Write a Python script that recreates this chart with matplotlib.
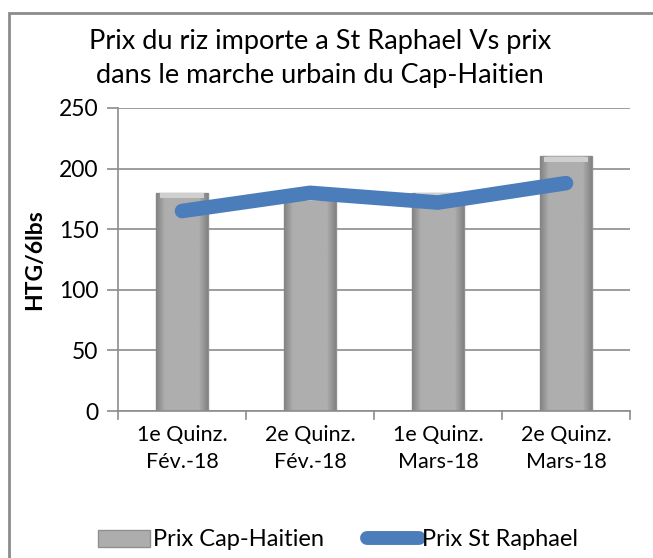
import numpy as np
import matplotlib
matplotlib.use("Agg")
import matplotlib.pyplot as plt
from matplotlib.patches import Rectangle, Patch
from matplotlib.lines import Line2D

plt.rcParams['font.family'] = ['Lato', 'DejaVu Sans']

# donnees
periodes = ["1e Quinz.\nFév.-18", "2e Quinz.\nFév.-18", "1e Quinz.\nMars-18", "2e Quinz.\nMars-18"]
prix_cap = [180, 178, 180, 210]
prix_raphael = [165, 180, 172, 188]
y_ticks = [0, 50, 100, 150, 200, 250]

W, H = 653, 558
fig = plt.figure(figsize=(W / 100, H / 100), dpi=100)
ax = fig.add_axes([118 / W, 1 - 411 / H, 512 / W, 303 / H])

# cadre exterieur (coupe a droite et en bas)
fig.patches.append(Rectangle((9 / W, -0.1), 1.2, 1 - 13 / H + 0.1, transform=fig.transFigure,
                             fill=False, edgecolor="#8c8c8c", linewidth=2, zorder=0))

x = np.arange(len(periodes))
bars = ax.bar(x, prix_cap, width=0.4, color="#adadad", edgecolor="#8f8f8f", linewidth=1, zorder=2)

# degrade horizontal pour donner du relief
grad = np.concatenate([np.linspace(0.52, 0.68, 6), np.full(20, 0.68), np.linspace(0.68, 0.52, 6)])
img = np.tile(grad, (2, 1))
for b in bars:
    im = ax.imshow(img, cmap="gray", vmin=0, vmax=1, aspect="auto", zorder=2.5,
                   extent=(b.get_x(), b.get_x() + b.get_width(), 0, b.get_height()), interpolation="bilinear")
    im.set_clip_path(b)
    # petit biseau clair en haut
    ax.bar(b.get_x() + b.get_width() / 2, 4, bottom=b.get_height() - 4.5, width=b.get_width() * 0.85,
           color="#cfcfcf", linewidth=0, zorder=2.6)

ax.plot(x, prix_raphael, color="#4a7dba", linewidth=10.5, solid_capstyle="round",
        solid_joinstyle="round", zorder=3)

ax.set_xlim(-0.5, 3.5)
ax.set_ylim(0, 250)
ax.set_yticks(y_ticks)
ax.set_xticks(x)
ax.set_xticklabels(periodes, fontsize=15.5, linespacing=1.45)
ax.tick_params(axis="y", labelsize=16.5, length=8, width=1.2, color="#8c8c8c", direction="out", pad=6)
ax.tick_params(axis="x", length=0, pad=10)
# graduations aux limites des categories
for xb in np.arange(-0.5, 4, 1):
    ax.plot([xb, xb], [0, -6.5], color="#8c8c8c", linewidth=1.2, clip_on=False, zorder=1)

ax.grid(axis="y", color="#8c8c8c", linewidth=1.2, zorder=0)
ax.set_axisbelow(True)
for s in ["top", "right"]:
    ax.spines[s].set_visible(False)
for s in ["left", "bottom"]:
    ax.spines[s].set_color("#8c8c8c")
    ax.spines[s].set_linewidth(1.2)

fig.text(35 / W, 1 - 260 / H, "HTG/6lbs", rotation=90, ha="center", va="center",
         fontsize=16.5, fontweight="bold")
fig.text(320 / W, 1 - 42 / H, "Prix du riz importe a St Raphael Vs prix", ha="center", va="center", fontsize=19.5)
fig.text(320 / W, 1 - 75 / H, "dans le marche urbain du Cap-Haitien", ha="center", va="center", fontsize=19.5)

handles = [Patch(facecolor="#adadad", edgecolor="#8f8f8f"),
           Line2D([0], [0], color="#4a7dba", linewidth=10, solid_capstyle="round")]
fig.legend(handles, ["Prix Cap-Haitien", "Prix St Raphael"], loc="center", bbox_to_anchor=(338 / W, 1 - 540 / H),
           ncol=2, frameon=False, fontsize=17, handlelength=2.2, handletextpad=0.15, columnspacing=1.8)

fig.savefig("out.png", dpi=100)
